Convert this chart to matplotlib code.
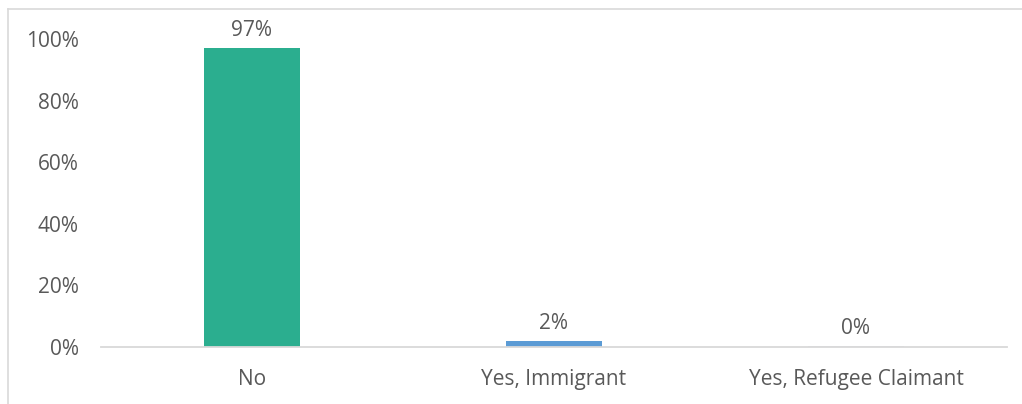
import matplotlib
matplotlib.use("Agg")
import matplotlib.pyplot as plt
from matplotlib.lines import Line2D
from matplotlib.ticker import PercentFormatter

categories = ["No", "Yes, Immigrant", "Yes, Refugee Claimant"]
shares = [0.97, 0.02, 0.003]
labels = ["97%", "2%", "0%"]
colors = ["#2BAE8F", "#5B9BD5", "#DCE3EC"]
y_ticks = [0.0, 0.2, 0.4, 0.6, 0.8, 1.0]

text_color = "#595959"
plt.rcParams["font.family"] = ["Open Sans", "DejaVu Sans"]

W, H = 1022, 404
fig = plt.figure(figsize=(W / 100, H / 100), dpi=100)
ax = fig.add_axes([101 / W, (H - 347) / H, (1007 - 101) / W, (347 - 39) / H])

x = range(len(categories))
bars = ax.bar(x, shares, width=0.315, color=colors)

for bar, lab in zip(bars, labels):
    ax.annotate(lab, (bar.get_x() + bar.get_width() / 2, bar.get_height()),
                xytext=(0, 5), textcoords="offset points",
                ha="center", va="bottom", fontsize=15, color=text_color)

ax.set_xlim(-0.5, len(categories) - 0.5)
ax.set_ylim(0, 1.0)
ax.set_yticks(y_ticks)
ax.yaxis.set_major_formatter(PercentFormatter(1.0, decimals=0))
ax.set_xticks(list(x))
ax.set_xticklabels(categories)

for s in ["top", "right", "left"]:
    ax.spines[s].set_visible(False)
ax.spines["bottom"].set_color("#D9D9D9")
ax.spines["bottom"].set_linewidth(1.3)
ax.tick_params(axis="both", length=0, labelsize=15, labelcolor=text_color)
ax.tick_params(axis="y", pad=16)
ax.tick_params(axis="x", pad=15.5)

# outer frame (left and top edges)
fig.add_artist(Line2D([8 / W, 8 / W], [0, 1 - 9 / H], transform=fig.transFigure,
                      color="#D9D9D9", linewidth=1.2))
fig.add_artist(Line2D([8 / W, 1], [1 - 9 / H, 1 - 9 / H], transform=fig.transFigure,
                      color="#D9D9D9", linewidth=1.2))

fig.savefig("out.png", dpi=100, facecolor="white")
